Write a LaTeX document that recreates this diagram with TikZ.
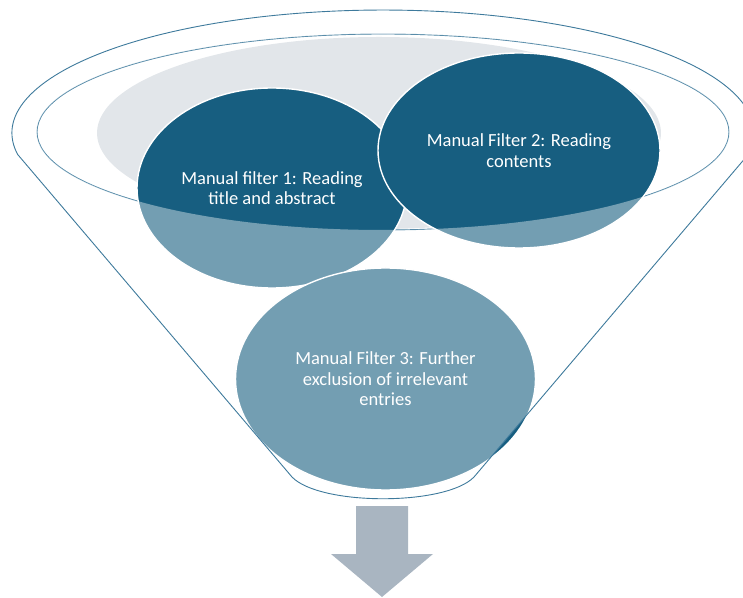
\documentclass[tikz,border=0pt]{standalone}
\usepackage{fontspec}
\setmainfont{Carlito}
\usetikzlibrary{shapes.geometric}
\definecolor{darkblue}{RGB}{23,94,128}
\definecolor{funnelline}{RGB}{62,122,156}
\definecolor{lightgray}{RGB}{226,230,234}
\definecolor{arrowgray}{RGB}{169,181,193}
\tikzset{
  filterbox/.style={ellipse, inner sep=0pt, fill=darkblue, draw=white, line width=1.4pt,
    text=white, align=center, font=\fontsize{18.5}{20.5}\selectfont},
  funnelstroke/.style={draw=funnelline, line width=0.9pt},
}
\begin{document}
\begin{tikzpicture}[x=1pt,y=1pt]
\useasboundingbox (0,0) rectangle (743,597);
\clip (0,0) rectangle (743,597);
% inner rim of the funnel mouth (beneath the circles)
\draw[funnelstroke] (383,465) ellipse [x radius=346, y radius=98];
% grey back ellipse
\fill[lightgray] (379,464) ellipse [x radius=282, y radius=96];
% filter circles
\node[filterbox, minimum width=270pt, minimum height=200pt] (f1) at (272,409)
  {Manual filter 1: Reading\\title and abstract};
\node[filterbox, minimum width=282pt, minimum height=195pt] (f2) at (519,446.5)
  {Manual Filter 2: Reading\\contents};
\node[filterbox, minimum width=300pt, minimum height=222pt] (f3) at (385.5,218)
  {Manual Filter 3: Further\\exclusion of irrelevant\\entries};
% translucent funnel body
\fill[white, fill opacity=0.4, even odd rule]
  (17.6,442.6) arc[start angle=190, end angle=-10, x radius=371, y radius=123]
  -- (474,120) .. controls (446,91) and (320,91) .. (292,120) -- cycle
  (383,465) ellipse [x radius=346, y radius=98];
% funnel outline
\draw[funnelstroke]
  (17.6,442.6) arc[start angle=190, end angle=-10, x radius=371, y radius=123]
  -- (474,120) .. controls (446,91) and (320,91) .. (292,120) -- cycle;
% output arrow
\fill[arrowgray] (356,91) -- (408,91) -- (408,43) -- (433,43) -- (382,0)
  -- (331,43) -- (356,43) -- cycle;
\end{tikzpicture}
\end{document}
